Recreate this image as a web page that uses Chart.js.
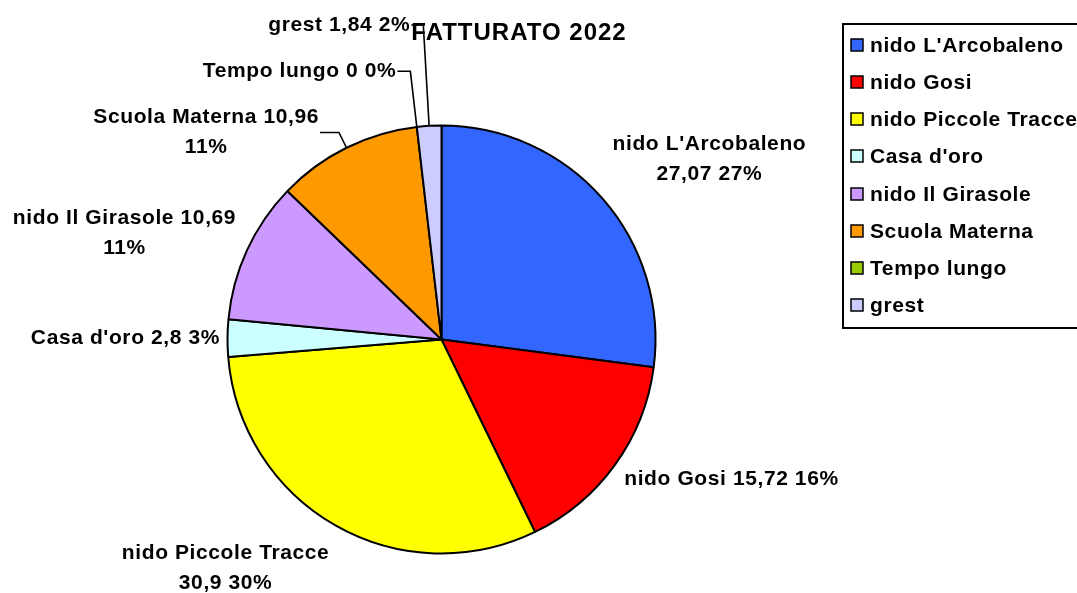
<!DOCTYPE html>
<html>
<head>
<meta charset="utf-8">
<title>Fatturato 2022</title>
<script src="https://cdn.jsdelivr.net/npm/chart.js@4.4.1/dist/chart.umd.min.js"></script>
<style>
    html, body { margin: 0; padding: 0; background: #fff; }
    #wrap { width: 1077px; height: 593px; position: relative; }
</style>
</head>
<body>
<div id="wrap"><canvas id="pieChart"></canvas></div>
<script>
var chartTitle = 'FATTURATO 2022';
var categories = ['nido L\'Arcobaleno', 'nido Gosi', 'nido Piccole Tracce', 'Casa d\'oro', 'nido Il Girasole', 'Scuola Materna', 'Tempo lungo', 'grest'];
var revenue = [27.07, 15.72, 30.9, 2.8, 10.69, 10.96, 0, 1.84];
var sliceColors = ['#3366FF', '#FF0000', '#FFFF00', '#CCFFFF', '#CC99FF', '#FF9900', '#99CC00', '#CCCCFF'];

// where the data labels sit: angle in degrees clockwise from 12 o'clock, distance in radii.
// the small slices get a leader line (radial length + horizontal stub) instead
var labelPlacement = [
    { angle: 56, dist: 1.51 },
    { angle: 115.8, dist: 1.505 },
    { angle: 223.3, dist: 1.471 },
    { angle: 270.2, dist: 1.477 },
    { angle: 288.6, dist: 1.563 },
    { leader: 17, stub: 19 },
    { leader: 56, stub: 13 },
    { leader: 101, stub: 12 }
];

var textFont = 'bold 21px "Liberation Sans", Arial, sans-serif';
var titleFont = 'bold 24px "Liberation Sans", Arial, sans-serif';

function formatValue(v) {
    return String(v).replace('.', ',');
}

// rounded percentages, the biggest slice takes the rounding error so they add up to 100
function percentages(values) {
    var total = values.reduce(function (a, b) { return a + b; }, 0);
    var pct = values.map(function (v) { return Math.round(v / total * 100); });
    var diff = 100 - pct.reduce(function (a, b) { return a + b; }, 0);
    var big = values.indexOf(Math.max.apply(null, values));
    pct[big] += diff;
    return pct;
}

function wrapText(ctx, text, maxWidth) {
    var words = text.split(' ');
    var lines = [];
    var line = words[0];
    for (var i = 1; i < words.length; i++) {
        var test = line + ' ' + words[i];
        if (ctx.measureText(test).width > maxWidth) {
            lines.push(line);
            line = words[i];
        } else {
            line = test;
        }
    }
    lines.push(line);
    return lines;
}

var dataLabels = {
    id: 'dataLabels',
    afterDatasetsDraw: function (chart) {
        var ctx = chart.ctx;
        var meta = chart.getDatasetMeta(0);
        var pct = percentages(revenue);

        ctx.save();
        ctx.font = textFont;
        ctx.letterSpacing = '0.6px';
        ctx.fillStyle = '#000';
        ctx.strokeStyle = '#000';
        ctx.lineWidth = 1.6;
        ctx.textAlign = 'center';
        ctx.textBaseline = 'middle';

        meta.data.forEach(function (arc, i) {
            var p = arc.getProps(['x', 'y', 'startAngle', 'endAngle', 'outerRadius'], true);
            var text = categories[i] + ' ' + formatValue(revenue[i]) + ' ' + pct[i] + '%';
            var lines = wrapText(ctx, text, 245);
            var w = 0;
            lines.forEach(function (ln) { w = Math.max(w, ctx.measureText(ln).width); });
            var place = labelPlacement[i];
            var cx, cy;

            if (place.leader) {
                var mid = (p.startAngle + p.endAngle) / 2;
                var ex = p.x + Math.cos(mid) * p.outerRadius;
                var ey = p.y + Math.sin(mid) * p.outerRadius;
                var bx = p.x + Math.cos(mid) * (p.outerRadius + place.leader);
                var by = p.y + Math.sin(mid) * (p.outerRadius + place.leader);
                var tx = bx - place.stub;
                ctx.beginPath();
                ctx.moveTo(ex, ey);
                ctx.lineTo(bx, by);
                ctx.lineTo(tx, by);
                ctx.stroke();
                cx = tx - 1 - w / 2;
                cy = by;
            } else {
                var a = place.angle * Math.PI / 180;
                cx = p.x + Math.sin(a) * p.outerRadius * place.dist;
                cy = p.y - Math.cos(a) * p.outerRadius * place.dist;
            }

            lines.forEach(function (ln, k) {
                ctx.fillText(ln, cx, cy + (k - (lines.length - 1) / 2) * 30);
            });
        });
        ctx.restore();
    }
};

var sideLegend = {
    id: 'sideLegend',
    afterDraw: function (chart) {
        var ctx = chart.ctx;
        var colors = chart.data.datasets[0].backgroundColor;

        ctx.save();
        ctx.font = titleFont;
        ctx.letterSpacing = '1px';
        ctx.fillStyle = '#000';
        ctx.textAlign = 'center';
        ctx.textBaseline = 'middle';
        ctx.fillText(chartTitle, 519, 33);

        ctx.lineWidth = 2;
        ctx.strokeStyle = '#000';
        ctx.strokeRect(843, 24, 300, 304);

        ctx.font = textFont;
        ctx.letterSpacing = '0.6px';
        ctx.textAlign = 'left';
        ctx.lineWidth = 1.5;
        chart.data.labels.forEach(function (label, i) {
            var y = Math.round(45 + i * 37.15);
            ctx.fillStyle = colors[i];
            ctx.fillRect(851, y - 6, 12, 12);
            ctx.strokeRect(851, y - 6, 12, 12);
            ctx.fillStyle = '#000';
            ctx.fillText(label, 870, y + 1);
        });
        ctx.restore();
    }
};

document.addEventListener("DOMContentLoaded", function () {
    var ctx = document.getElementById('pieChart').getContext('2d');

    var pieChart = new Chart(ctx, {
        type: 'pie',
        data: {
            labels: categories,
            datasets: [{
                data: revenue,
                backgroundColor: sliceColors,
                borderColor: '#000',
                borderWidth: 2,
                hoverBorderWidth: 2,
                hoverOffset: 0
            }]
        },
        options: {
            responsive: true,
            maintainAspectRatio: false,
            animation: false,
            layout: {
                padding: { left: 226.5, top: 124.5, right: 420.5, bottom: 38.5 }
            },
            plugins: {
                legend: { display: false },
                tooltip: { enabled: false },
                title: { display: false }
            }
        },
        plugins: [dataLabels, sideLegend]
    });
});
</script>
</body>
</html>
